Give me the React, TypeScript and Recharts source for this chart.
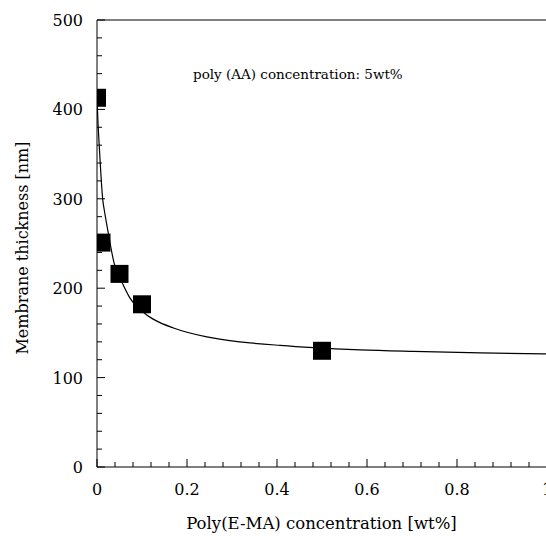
import React from "react";
import {
  ComposedChart,
  Line,
  Scatter,
  XAxis,
  YAxis,
  ReferenceLine
} from "recharts";

// measured points
const measured = [
  { x: 0, y: 413 },
  { x: 0.01, y: 251 },
  { x: 0.05, y: 216 },
  { x: 0.1, y: 182 },
  { x: 0.5, y: 130 }
];

// fitted curve
const curveX = [0, 0.001, 0.0055, 0.013, 0.016, 0.025, 0.038, 0.056, 0.072, 0.107, 0.13, 0.17, 0.244, 0.318, 0.407, 0.481, 0.585, 0.703, 0.852, 1.0];
const curveY = [415, 400, 355, 298, 288, 262, 228, 206, 190, 171.5, 164, 155.5, 145.5, 140, 136, 133.5, 131, 129.3, 127.7, 126.5];

const xTicks = [0, 0.04, 0.08, 0.12, 0.16, 0.2, 0.24, 0.28, 0.32, 0.36, 0.4, 0.44, 0.48, 0.52, 0.56, 0.6, 0.64, 0.68, 0.72, 0.76, 0.8, 0.84, 0.88, 0.92, 0.96, 1];
const yTicks = [0, 20, 40, 60, 80, 100, 120, 140, 160, 180, 200, 220, 240, 260, 280, 300, 320, 340, 360, 380, 400, 420, 440, 460, 480, 500];

const xTitle = "Poly(E-MA) concentration [wt%]";
const yTitle = "Membrane thickness [nm]";
const note = "poly (AA) concentration: 5wt%";

const FONT = "'DejaVu Serif', serif";

const curve = curveX.map((x, i) => ({ x, y: curveY[i] }));

function YTick(props: any) {
  const { x, y, payload } = props;
  const major = payload.value % 100 === 0;
  return (
    <g>
      <line x1={x} y1={y} x2={x + (major ? 8 : 5)} y2={y} stroke="#000" strokeWidth={1} />
      {major && (
        <text x={x - 14} y={y + 6} textAnchor="end" fontFamily={FONT} fontSize={16} fill="#000">
          {payload.value}
        </text>
      )}
    </g>
  );
}

function XTick(props: any) {
  const { x, y, payload } = props;
  const v = payload.value;
  const major = Math.abs(v * 5 - Math.round(v * 5)) < 1e-9;
  return (
    <g>
      <line x1={x} y1={y} x2={x} y2={y - (major ? 8 : 5)} stroke="#000" strokeWidth={1} />
      {major && (
        <text x={x} y={y + 27.5} textAnchor="middle" fontFamily={FONT} fontSize={16} fill="#000">
          {String(v)}
        </text>
      )}
    </g>
  );
}

function SquareMark(props: any) {
  const { cx, cy } = props;
  return <rect x={cx - 9} y={cy - 9} width={18} height={18} fill="#000" />;
}

export default function App() {
  return (
    <div style={{ position: "absolute", left: 0, top: 0, width: 546, height: 536, overflow: "hidden", background: "#fff" }}>
      <ComposedChart
        width={600}
        height={536}
        margin={{ top: 20, right: 53, bottom: 39, left: 37 }}
      >
        <XAxis
          dataKey="x"
          type="number"
          domain={[0, 1]}
          ticks={xTicks}
          interval={0}
          height={30}
          tickSize={0}
          tickMargin={0}
          tickLine={false}
          tick={<XTick />}
          axisLine={{ stroke: "#000" }}
          allowDataOverflow
        />
        <YAxis
          dataKey="y"
          type="number"
          domain={[0, 500]}
          ticks={yTicks}
          interval={0}
          width={60}
          tickSize={0}
          tickMargin={0}
          tickLine={false}
          tick={<YTick />}
          axisLine={{ stroke: "#000" }}
          allowDataOverflow
        />
        <ReferenceLine y={500} stroke="#000" />
        <ReferenceLine x={1} stroke="#000" />
        <Line
          data={curve}
          dataKey="y"
          type="monotone"
          stroke="#000"
          strokeWidth={1.2}
          dot={false}
          activeDot={false}
          isAnimationActive={false}
        />
        <Scatter data={measured} dataKey="y" shape={<SquareMark />} isAnimationActive={false} />
      </ComposedChart>
      <svg width={546} height={536} style={{ position: "absolute", left: 0, top: 0, pointerEvents: "none" }}>
        <text x={321.5} y={529} textAnchor="middle" fontFamily={FONT} fontSize={16.5} fill="#000">
          {xTitle}
        </text>
        <text x={28} y={248} textAnchor="middle" fontFamily={FONT} fontSize={16} fill="#000" transform="rotate(-90 28 248)">
          {yTitle}
        </text>
        <text x={193} y={79} fontFamily={FONT} fontSize={13.5} fill="#000">
          {note}
        </text>
      </svg>
    </div>
  );
}
